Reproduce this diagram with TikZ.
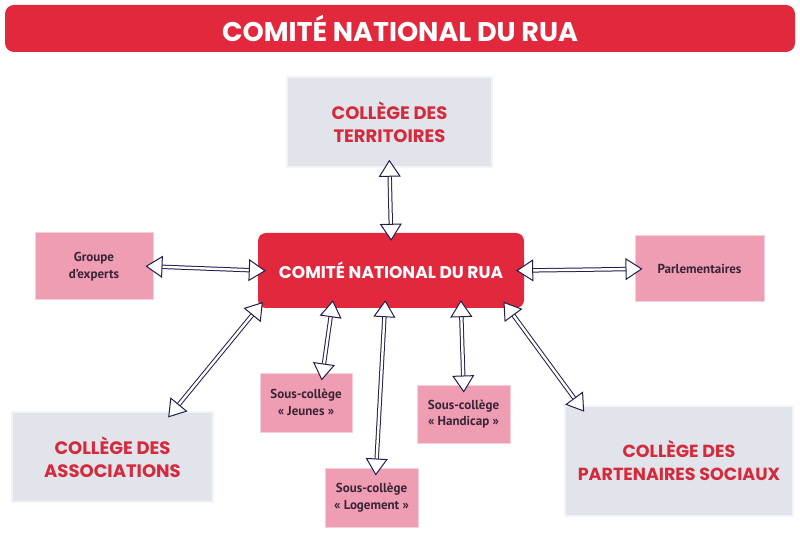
\documentclass[tikz,border=0pt]{standalone}
\usepackage{fontspec}
\setmainfont{Poppins}
\newfontfamily\smallfont{PT Sans}
\usetikzlibrary{arrows.meta, calc}

\definecolor{ruared}{HTML}{E1283D}
\definecolor{collgray}{HTML}{E2E4EC}
\definecolor{sketchgray}{HTML}{F3F4F7}
\definecolor{souspink}{HTML}{EE9DB3}
\definecolor{pinkedge}{HTML}{F7CFDA}
\definecolor{textred}{HTML}{D42A3C}
\definecolor{textdark}{HTML}{3A2436}
\definecolor{arrownavy}{HTML}{1F1F4A}

\begin{document}
\begin{tikzpicture}[x=1pt, y=-1pt]

\tikzset{title/.style = {shape=rectangle, fill=ruared, rounded corners=9pt, inner sep=0, text=white, font=\fontsize{27}{30}\selectfont\bfseries}}
\tikzset{college/.style = {shape=rectangle, fill=collgray, draw=sketchgray, line width=1.5pt, inner sep=0, text=textred, align=center, font=\fontsize{18}{23}\selectfont\bfseries}}
\tikzset{sous/.style = {shape=rectangle, fill=souspink, draw=pinkedge, line width=1pt, inner sep=0, text=textdark, align=center, font=\smallfont\bfseries\fontsize{13}{16.5}\selectfont}}
\tikzset{edge/.style = {<->, > = {Triangle[open, fill=white, length=17pt, width=22pt]}, draw=arrownavy, line width=1pt, double=white, double distance=2.4pt, shorten <=-8pt, shorten >=-8pt}}

\useasboundingbox (0,0) rectangle (800,534);

%boxes
\node[title, minimum width=790, minimum height=47] (top) at (400,28.5) {COMITÉ NATIONAL DU RUA};
\node[title, rounded corners=8pt, minimum width=266, minimum height=75, font=\fontsize{17}{20}\selectfont\bfseries] (rua) at (391,270.5) {COMITÉ NATIONAL DU RUA};
\node[college, minimum width=205, minimum height=90] (terr) at (389.5,122) {COLLÈGE DES\\TERRITOIRES};
\node[college, minimum width=201, minimum height=90] (assoc) at (112.5,457) {COLLÈGE DES\\ASSOCIATIONS};
\node[college, minimum width=228, minimum height=110, font=\fontsize{17.5}{23}\selectfont\bfseries] (part) at (679,461) {COLLÈGE DES\\PARTENAIRES SOCIAUX};
\node[sous, minimum width=118, minimum height=67] (experts) at (94,266.5) {Groupe\\d’experts};
\node[sous, minimum width=129, minimum height=66] (parl) at (699.5,269) {Parlementaires};
\node[sous, minimum width=92, minimum height=59] (jeunes) at (306,402.5) {Sous-collège\\«~Jeunes~»};
\node[sous, minimum width=93, minimum height=58] (handicap) at (463.5,414) {Sous-collège\\«~Handicap~»};
\node[sous, minimum width=93, minimum height=59] (logement) at (371.5,497.5) {Sous-collège\\«~Logement~»};

%links
\draw[edge] (terr.south) -- (rua.north);
\draw[edge] (experts.east) -- (rua.west);
\draw[edge] (rua.east) -- (parl.west);
\draw[edge] ($(assoc.north west)!0.8!(assoc.north east)$) -- (rua.south west);
\draw[edge] ($(rua.south west)!0.278!(rua.south east)$) -- ($(jeunes.north west)!0.68!(jeunes.north east)$);
\draw[edge] ($(rua.south west)!0.477!(rua.south east)$) -- ($(logement.north west)!0.55!(logement.north east)$);
\draw[edge] ($(rua.south west)!0.763!(rua.south east)$) -- (handicap.north);
\draw[edge] ($(rua.south west)!0.94!(rua.south east)$) -- ($(part.north west)!0.066!(part.north east)$);

\end{tikzpicture}
\end{document}
